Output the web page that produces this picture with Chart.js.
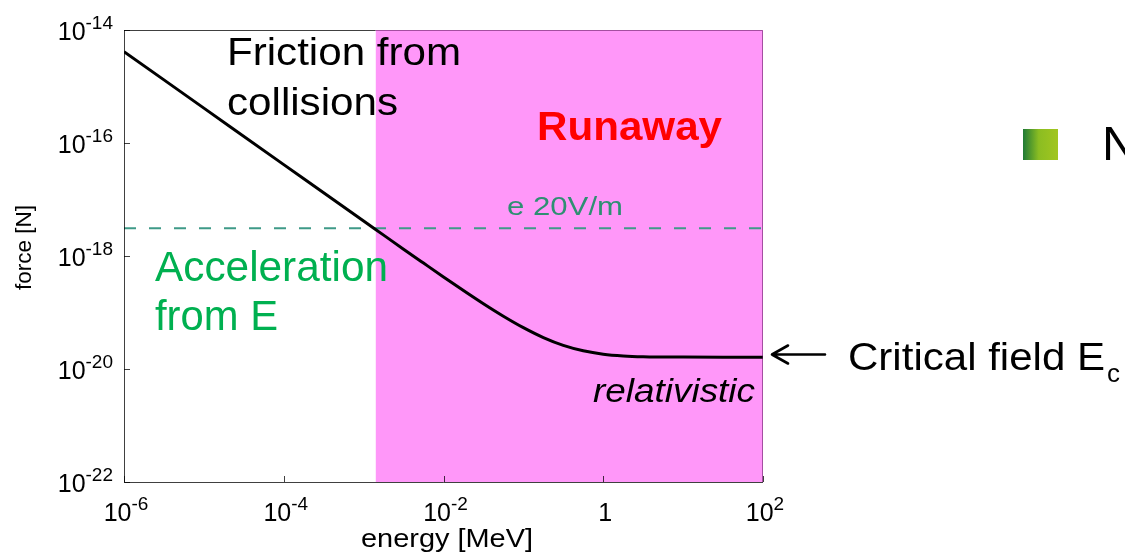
<!DOCTYPE html>
<html>
<head>
<meta charset="utf-8">
<script src="https://cdn.jsdelivr.net/npm/chart.js@4/dist/chart.umd.min.js"></script>
<style>
html,body{margin:0;padding:0;background:#fff;overflow:hidden}
#wrap{width:1125px;height:556px;position:relative}
</style>
</head>
<body>
<div id="wrap"><canvas id="c" width="1125" height="556"></canvas></div>
<script>
// ---- data ----
const energyMeV = [1e-6, 1e-5, 1e-4, 1e-3, 1.78e-3, 3.16e-3, 5.62e-3, 1e-2, 2e-2, 3.16e-2, 5.62e-2, 0.1, 0.178, 0.316, 0.562, 1, 1.78, 3.16, 10, 31.6, 100];
const frictionForceN = [4.14e-15, 4.14e-16, 4.14e-17, 4.15e-18, 2.34e-18, 1.32e-18, 7.49e-19, 4.26e-19, 2.19e-19, 1.43e-19, 8.60e-20, 5.39e-20, 3.60e-20, 2.62e-20, 2.10e-20, 1.83e-20, 1.705e-20, 1.65e-20, 1.624e-20, 1.62e-20, 1.62e-20];
const fieldEnergyMeV = [1e-6, 100];
const fieldForceN = [3.1e-18, 3.1e-18];
const runawayEnergyMeV = [1.41e-3, 100];
const runawayTopN = [1e-14, 1e-14];
const xTickValues = [1e-6, 1e-4, 1e-2, 1, 1e2];
const xTickBase = ['10', '10', '10', '1', '10'];
const xTickExp = ['-6', '-4', '-2', '', '2'];
const yTickValues = [1e-14, 1e-16, 1e-18, 1e-20, 1e-22];
const yTickBase = ['10', '10', '10', '10', '10'];
const yTickExp = ['-14', '-16', '-18', '-20', '-22'];

const FONT = '"Liberation Sans", Arial, Helvetica, sans-serif';

function fitText(ctx, str, x, y, font, color, w) {
  ctx.save();
  ctx.font = font;
  ctx.fillStyle = color;
  ctx.textAlign = 'left';
  ctx.textBaseline = 'alphabetic';
  const m = ctx.measureText(str).width;
  ctx.translate(x, y);
  if (w) ctx.scale(w / m, 1);
  ctx.fillText(str, 0, 0);
  ctx.restore();
}

const decor = {
  id: 'decor',
  afterDatasetsDraw(chart) {
    const ctx = chart.ctx;
    const xs = chart.scales.x, ys = chart.scales.y;
    const L = xs.left, R = xs.right, T = ys.top, B = ys.bottom;
    const xr = xs.getPixelForValue(runawayEnergyMeV[0]);
    ctx.save();
    ctx.lineWidth = 1;
    ctx.strokeStyle = 'rgba(0,0,0,0.75)';
    ctx.beginPath();
    ctx.moveTo(L + 0.5, T); ctx.lineTo(L + 0.5, B + 0.5); ctx.lineTo(R, B + 0.5);
    ctx.moveTo(L, T + 0.5); ctx.lineTo(xr, T + 0.5);
    ctx.stroke();
    ctx.strokeStyle = 'rgba(90,20,90,0.55)';
    ctx.beginPath();
    ctx.moveTo(xr, T + 0.5); ctx.lineTo(R - 0.5, T + 0.5); ctx.lineTo(R - 0.5, B);
    ctx.stroke();
    ctx.strokeStyle = 'rgba(0,0,0,0.75)';
    ctx.beginPath();
    yTickValues.forEach(v => {
      const y = Math.round(ys.getPixelForValue(v)) + 0.5;
      ctx.moveTo(L, y); ctx.lineTo(L + 6, y);
    });
    xTickValues.forEach(v => {
      const x = Math.round(xs.getPixelForValue(v)) + 0.5;
      ctx.moveTo(x, B); ctx.lineTo(x, B - 6);
    });
    ctx.stroke();
    ctx.restore();
  },
  afterDraw(chart) {
    const ctx = chart.ctx;
    const xs = chart.scales.x, ys = chart.scales.y;
    const L = xs.left, B = ys.bottom;
    ctx.save();
    ctx.fillStyle = '#000';
    ctx.textBaseline = 'alphabetic';
    yTickValues.forEach((v, i) => {
      const y = ys.getPixelForValue(v);
      ctx.font = '19px ' + FONT;
      const ew = ctx.measureText(yTickExp[i]).width;
      ctx.textAlign = 'left';
      ctx.fillText(yTickExp[i], L - 11 - ew, y - 1);
      ctx.font = '25px ' + FONT;
      ctx.textAlign = 'right';
      ctx.fillText(yTickBase[i], L - 11 - ew, y + 10);
    });
    xTickValues.forEach((v, i) => {
      const x = xs.getPixelForValue(v);
      ctx.font = '25px ' + FONT;
      const bw = ctx.measureText(xTickBase[i]).width;
      ctx.font = '19px ' + FONT;
      const ew = xTickExp[i] ? ctx.measureText(xTickExp[i]).width : 0;
      const x0 = x + 2 - (bw + ew) / 2;
      ctx.textAlign = 'left';
      ctx.font = '25px ' + FONT;
      ctx.fillText(xTickBase[i], x0, B + 39);
      if (xTickExp[i]) {
        ctx.font = '19px ' + FONT;
        ctx.fillText(xTickExp[i], x0 + bw, B + 28);
      }
    });
    ctx.restore();

    fitText(ctx, 'energy [MeV]', 361, 547, '26px ' + FONT, '#000', 172);
    ctx.save();
    ctx.translate(31, 290);
    ctx.rotate(-Math.PI / 2);
    fitText(ctx, 'force [N]', 0, 0, '22px ' + FONT, '#000', 85);
    ctx.restore();

    fitText(ctx, 'Friction from', 227, 65, '39px ' + FONT, '#000', 234);
    fitText(ctx, 'collisions', 227, 115, '39px ' + FONT, '#000', 171);
    fitText(ctx, 'Runaway', 537, 140, 'bold 40px ' + FONT, '#ff0000', 185);
    fitText(ctx, 'e 20V/m', 507, 215, '26px ' + FONT, '#2e8f72', 116);
    fitText(ctx, 'Acceleration', 155, 281, '42px ' + FONT, '#00b050', 233);
    fitText(ctx, 'from E', 155, 330, '42px ' + FONT, '#00b050', 123);
    fitText(ctx, 'relativistic', 593, 402, 'italic 33px ' + FONT, '#000', 162);
    fitText(ctx, 'Critical field E', 848, 370, '38px ' + FONT, '#000', 257);
    fitText(ctx, 'c', 1107, 382, '26px ' + FONT, '#000', 13);

    // arrow pointing at the curve's plateau
    ctx.save();
    ctx.strokeStyle = '#000';
    ctx.lineWidth = 2.6;
    ctx.lineCap = 'round';
    ctx.lineJoin = 'round';
    ctx.beginPath();
    ctx.moveTo(772, 354.5); ctx.lineTo(825, 354.5);
    ctx.moveTo(788, 345.5); ctx.lineTo(772, 354.5); ctx.lineTo(788, 363.5);
    ctx.stroke();
    ctx.restore();

    ctx.save();
    const g = ctx.createLinearGradient(1023, 0, 1058, 0);
    g.addColorStop(0, '#1f7a35');
    g.addColorStop(0.45, '#8bbd22');
    g.addColorStop(1, '#a2c61f');
    ctx.fillStyle = g;
    ctx.fillRect(1023, 129, 35, 31);
    ctx.restore();
    fitText(ctx, 'N', 1102, 160, '49px ' + FONT, '#000');
  }
};

const ctx = document.getElementById('c').getContext('2d');
new Chart(ctx, {
  type: 'scatter',
  data: {
    datasets: [
      {
        label: 'friction',
        data: energyMeV.map((e, i) => ({x: e, y: frictionForceN[i]})),
        showLine: true,
        borderColor: '#000',
        borderWidth: 3,
        pointRadius: 0,
        cubicInterpolationMode: 'monotone',
        fill: false
      },
      {
        label: 'e 20V/m',
        data: fieldEnergyMeV.map((e, i) => ({x: e, y: fieldForceN[i]})),
        showLine: true,
        borderColor: '#3f9a88',
        borderWidth: 2,
        borderDash: [12, 13],
        pointRadius: 0,
        fill: false
      },
      {
        label: 'runaway',
        data: runawayEnergyMeV.map((e, i) => ({x: e, y: runawayTopN[i]})),
        showLine: true,
        borderWidth: 0,
        borderColor: 'rgba(0,0,0,0)',
        backgroundColor: '#ff97f9',
        pointRadius: 0,
        fill: 'start'
      }
    ]
  },
  options: {
    responsive: false,
    animation: false,
    devicePixelRatio: 1,
    layout: {padding: {left: 124, top: 30, right: 362, bottom: 74}},
    plugins: {legend: {display: false}, tooltip: {enabled: false}},
    scales: {
      x: {type: 'logarithmic', min: 1e-6, max: 100, display: false},
      y: {type: 'logarithmic', min: 1e-22, max: 1e-14, display: false}
    }
  },
  plugins: [decor]
});
</script>
</body>
</html>
